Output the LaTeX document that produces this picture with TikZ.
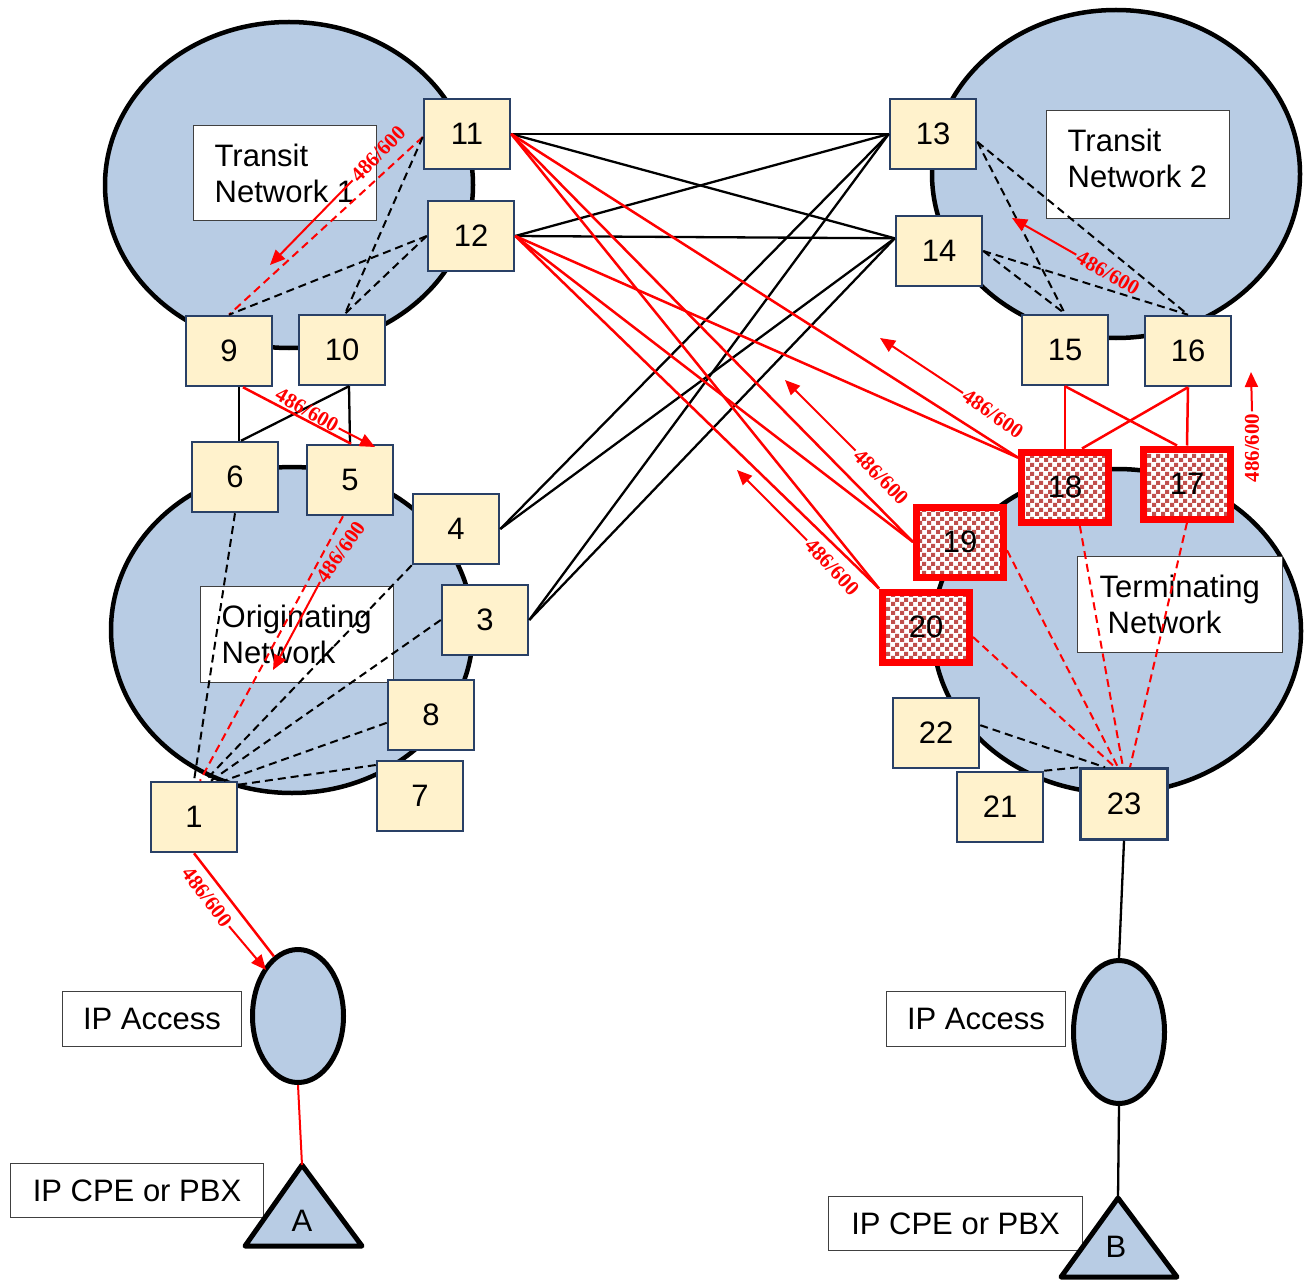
\documentclass[tikz,border=0pt]{standalone}
\usepackage{fontspec}
\setmainfont{Liberation Sans}
\newfontfamily\labfont{Liberation Serif}
\usetikzlibrary{shapes.geometric,arrows.meta,patterns,calc}
\pgfdeclarepatternformonly{checkers}{\pgfpointorigin}{\pgfqpoint{9pt}{9pt}}{\pgfqpoint{9pt}{9pt}}{%
  \pgfpathrectangle{\pgfpointorigin}{\pgfqpoint{4.5pt}{4.5pt}}%
  \pgfpathrectangle{\pgfqpoint{4.5pt}{4.5pt}}{\pgfqpoint{4.5pt}{4.5pt}}%
  \pgfusepath{fill}}
\definecolor{netblue}{RGB}{184,204,228}
\definecolor{cream}{RGB}{255,242,204}
\definecolor{navy}{RGB}{41,64,102}
\definecolor{boxgray}{RGB}{64,64,64}
\definecolor{checkred}{RGB}{192,80,77}
\tikzset{
  net/.style={ellipse, draw=black, line width=4.5pt, fill=netblue, inner sep=0pt},
  sq/.style={rectangle, draw=navy, line width=2.5pt, fill=cream, minimum width=86pt, minimum height=70pt, inner sep=0pt, font=\fontsize{31}{36}\selectfont},
  hot/.style={rectangle, draw=red, line width=7pt, preaction={fill=white}, pattern=checkers, pattern color=checkred, minimum width=87pt, minimum height=70pt, inner sep=0pt, font=\fontsize{31}{36}\selectfont},
  txtbox/.style={rectangle, draw=boxgray, line width=1.3pt, fill=white, inner xsep=0pt, inner ysep=18pt, font=\fontsize{31}{36}\selectfont, anchor=north west},
  ipbox/.style={rectangle, draw=boxgray, line width=1.3pt, fill=white, inner sep=0pt, font=\fontsize{31}{36}\selectfont},
  tri/.style={draw=black, line width=5pt, fill=netblue, line join=round},
  bline/.style={draw=black, line width=2.3pt},
  rline/.style={draw=red, line width=2.5pt},
  bdash/.style={draw=black, line width=2pt, dash pattern=on 8pt off 5pt},
  rdash/.style={draw=red, line width=2pt, dash pattern=on 8pt off 5pt},
  lab/.style={text=red, font=\labfont\bfseries\fontsize{21}{24}\selectfont, inner sep=2pt},
  rarrow/.style={draw=red, line width=2pt, -{Triangle[length=15pt,width=13pt]}},
}
\begin{document}
\begin{tikzpicture}[x=1pt,y=-1pt]
\useasboundingbox (0,0) rectangle (1308,1281);
\fill[white] (0,0) rectangle (1308,1281);
% network clouds
\node[net, minimum width=368pt, minimum height=326pt] (tn1) at (289,185) {};
\node[net, minimum width=368pt, minimum height=328pt] (tn2) at (1116,174) {};
\node[net, minimum width=362pt, minimum height=326pt] (orig) at (292,630) {};
\node[net, minimum width=368pt, minimum height=324pt] (term) at (1117,631) {};
\node[net, line width=5pt, minimum width=91pt, minimum height=133pt] (ipa1) at (298,1016) {};
\node[net, line width=5pt, minimum width=91pt, minimum height=143pt] (ipa2) at (1119,1032) {};
% text boxes
\node[txtbox] (tb1) at (193,125) {\parbox[t][59pt][t]{183pt}{\raggedright\leftskip=21pt Transit\\Network 1}};
\node[txtbox] (tb2) at (1046,110) {\parbox[t][72pt][t]{183pt}{\raggedright\leftskip=21pt Transit\\Network 2}};
\node[txtbox] (tb3) at (200,586) {\parbox[t][60pt][t]{193pt}{\raggedright\leftskip=21pt Originating\\Network}};
\node[txtbox] (tb4) at (1077,556) {\parbox[t][60pt][t]{205pt}{\raggedright\leftskip=22pt Terminating\\\hspace*{8pt}Network}};
\node[ipbox, minimum width=179pt, minimum height=55pt] (ip1) at (152,1019) {IP Access};
\node[ipbox, minimum width=179pt, minimum height=55pt] (ip2) at (976,1019) {IP Access};
\node[ipbox, minimum width=253pt, minimum height=54pt] (cpe1) at (137,1190.5) {IP CPE or PBX};
\node[ipbox, minimum width=254pt, minimum height=54pt] (cpe2) at (955.5,1223.5) {IP CPE or PBX};
% triangles
\draw[tri] (302,1165) coordinate (Atop) -- (362,1246) -- (245,1246) -- cycle;
\draw[tri] (1118,1198) coordinate (Btop) -- (1177,1277) -- (1061,1277) -- cycle;
\node[font=\fontsize{31}{36}\selectfont, inner sep=0pt] (A) at (302,1221) {A};
\node[font=\fontsize{31}{36}\selectfont, inner sep=0pt] (B) at (1116,1247) {B};
% square nodes
\node[sq] (n11) at (467,134) {11};
\node[sq] (n12) at (471,236) {12};
\node[sq] (n9) at (229,351) {9};
\node[sq] (n10) at (342,350) {10};
\node[sq] (n6) at (235,477) {6};
\node[sq] (n5) at (350,480) {5};
\node[sq] (n4) at (456,529) {4};
\node[sq] (n3) at (485,620) {3};
\node[sq] (n8) at (431,715) {8};
\node[sq] (n7) at (420,796) {7};
\node[sq] (n1) at (194,817) {1};
\node[sq] (n13) at (933,134) {13};
\node[sq] (n14) at (939,251) {14};
\node[sq] (n15) at (1065,350) {15};
\node[sq] (n16) at (1188,351) {16};
\node[hot] (n18) at (1065,487) {18};
\node[hot] (n17) at (1187,484) {17};
\node[hot] (n19) at (960,542) {19};
\node[hot] (n20) at (926,627) {20};
\node[sq] (n22) at (936,733) {22};
\node[sq] (n21) at (1000,807) {21};
\node[sq, minimum width=87pt, minimum height=71pt] (n23) at (1124,804) {23};
% black solid links between transit networks
\draw[bline] (n11.east) -- (n13.west);
\draw[bline] (n11.east) -- (n14.164);
\draw[bline] (n12.east) -- (n13.west);
\draw[bline] (n12.east) -- (n14.164);
\draw[bline] (n4.east) -- (n13.west);
\draw[bline] (n4.east) -- (n14.164);
\draw[bline] (n3.east) -- (n13.west);
\draw[bline] (n3.east) -- (n14.164);
% red solid links
\draw[rline] (n11.east) -- (n18.148);
\draw[rline] (n11.east) -- (n19.west);
\draw[rline] (n11.east) -- (n20.north west);
\draw[rline] (n12.east) -- (n18.148);
\draw[rline] (n12.east) -- (n19.west);
\draw[rline] (n12.east) -- (n20.north west);
\draw[rline] (n15.south) -- (n18.north);
\draw[rline] (n16.south) -- (n17.north);
\draw[rline] (n15.south) -- ($(n17.north)+(-10,0)$);
\draw[rline] (n16.south) -- ($(n18.north)+(17,0)$);
% 9/10 - 6/5
\draw[bline] ($(n9.south)+(10,0)$) -- ($(n6.north)+(4,0)$);
\draw[bline] ($(n10.south)+(7,0)$) -- (n5.north);
\draw[bline] ($(n10.south)+(7,0)$) -- ($(n6.north)+(6,0)$);
\draw[rline] ($(n9.south)+(14,0)$) -- ($(n5.north)+(1,0)$);
% transit 1 internal
\draw[rdash] ($(n11.west)+(0,3)$) -- (n9.north);
\draw[bdash] ($(n11.west)+(0,3)$) -- ($(n10.north)+(3,0)$);
\draw[bdash] (n12.west) -- (n9.north);
\draw[bdash] (n12.west) -- ($(n10.north)+(3,0)$);
% transit 2 internal
\draw[bdash] (n13.-10) -- (n15.north);
\draw[bdash] (n13.-10) -- (n16.north);
\draw[bdash] (n14.east) -- (n15.north);
\draw[bdash] (n14.east) -- (n16.north);
% originating internal
\draw[bdash] (n6.south) -- (n1.north);
\draw[rdash] ($(n5.south)+(-7,0)$) -- ($(n1.north)+(6,0)$);
\draw[bdash] (n4.south west) -- ($(n1.north)+(11,0)$);
\draw[bdash] (n3.west) -- ($(n1.north)+(17,0)$);
\draw[bdash] (n8.190) -- ($(n1.north)+(30,0)$);
\draw[bdash] (n7.145) -- ($(n1.north east)+(0,4)$);
% terminating internal
\draw[rdash] (n20.-12) -- ($(n23.north)+(-9,0)$);
\draw[rdash] (n19.-10) -- ($(n23.north)+(-6,0)$);
\draw[rdash] (n18.-69) -- ($(n23.north)+(-1,0)$);
\draw[rdash] (n17.south) -- ($(n23.north)+(6,0)$);
\draw[bdash] (n22.10) -- ($(n23.north)+(-19,0)$);
\draw[bdash] (n21.north east) -- (n23.north west);
% access links
\draw[rline] (n1.south) -- (ipa1.112);
\draw[rline, line width=2pt] (ipa1.south) -- (Atop);
\draw[bline] (n23.south) -- (ipa2.north);
\draw[bline] (ipa2.south) -- (Btop);
% 486/600 labels and arrows
\node[lab, rotate=46] (l1) at (378,154) {486/600};
\coordinate (t1) at (270,265);
\draw[rarrow] (l1.west) -- (t1);
\node[lab, rotate=-30] (l2) at (307,410) {486/600};
\coordinate (t2) at (375,447);
\draw[rarrow] (l2.east) -- (t2);
\node[lab, rotate=55] (l3) at (341,552) {486/600};
\coordinate (t3) at (273,670);
\draw[rarrow] (l3.west) -- (t3);
\node[lab, rotate=-53] (l4) at (207,897) {486/600};
\coordinate (t4) at (266,970);
\draw[rarrow] (l4.east) -- (t4);
\node[lab, rotate=-35] (l5) at (993,414) {486/600};
\coordinate (t5) at (880,338);
\draw[rarrow] (l5.west) -- (t5);
\node[lab, rotate=-46] (l6) at (881,477) {486/600};
\coordinate (t6) at (785,380);
\draw[rarrow] (l6.west) -- (t6);
\node[lab, rotate=-47] (l7) at (832,567) {486/600};
\coordinate (t7) at (737,470);
\draw[rarrow] (l7.west) -- (t7);
\node[lab, rotate=-30] (l8) at (1108,273) {486/600};
\coordinate (t8) at (1012,218);
\draw[rarrow] (l8.west) -- (t8);
\node[lab, rotate=90] (l9) at (1252,448) {486/600};
\coordinate (t9) at (1251,372);
\draw[rarrow] (l9.east) -- (t9);
\end{tikzpicture}
\end{document}
